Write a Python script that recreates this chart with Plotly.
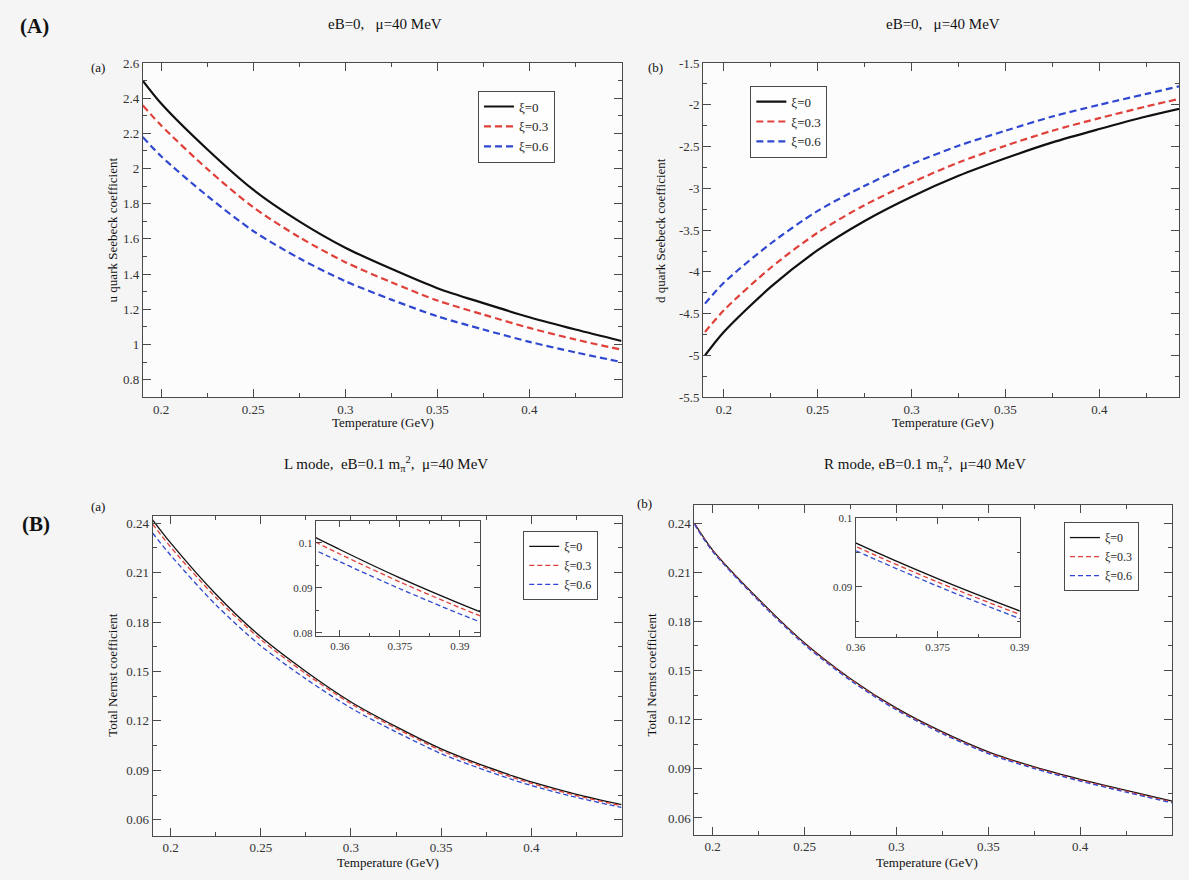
import plotly.graph_objects as go

# ---------------- data ----------------
T_A = [0.19, 0.2, 0.225, 0.25, 0.275, 0.3, 0.325, 0.35, 0.375, 0.4, 0.425, 0.45]
u_xi0 = [2.50, 2.37, 2.11, 1.88, 1.70, 1.55, 1.43, 1.32, 1.235, 1.155, 1.085, 1.02]
u_xi03 = [2.36, 2.245, 1.998, 1.78, 1.61, 1.468, 1.354, 1.25, 1.17, 1.094, 1.028, 0.97]
u_xi06 = [2.18, 2.07, 1.845, 1.645, 1.49, 1.36, 1.255, 1.16, 1.085, 1.015, 0.955, 0.90]
d_xi0 = [-5.0, -4.72, -4.18, -3.74, -3.39, -3.10, -2.85, -2.64, -2.45, -2.29, -2.14, -2.01]
d_xi03 = [-4.72, -4.46, -3.95, -3.53, -3.20, -2.93, -2.69, -2.49, -2.31, -2.16, -2.02, -1.89]
d_xi06 = [-4.38, -4.13, -3.66, -3.27, -2.97, -2.71, -2.49, -2.31, -2.14, -2.00, -1.87, -1.74]

T_B = [0.19, 0.2, 0.225, 0.25, 0.275, 0.3, 0.325, 0.35, 0.36, 0.375, 0.39, 0.4, 0.425, 0.45]
L_xi0 = [0.242, 0.228, 0.197, 0.171, 0.150, 0.1315, 0.1165, 0.1030, 0.0985, 0.0922, 0.0865, 0.0830, 0.0755, 0.0692]
L_xi03 = [0.2395, 0.2255, 0.1950, 0.1694, 0.1486, 0.1304, 0.1155, 0.1020, 0.0975, 0.0913, 0.0856, 0.0821, 0.0747, 0.0685]
L_xi06 = [0.234, 0.2205, 0.1905, 0.1655, 0.1455, 0.1278, 0.1133, 0.1001, 0.0958, 0.0898, 0.0842, 0.0808, 0.0736, 0.0675]
R_xi0 = [0.240, 0.2235, 0.1935, 0.1668, 0.1450, 0.1270, 0.1125, 0.1003, 0.0964, 0.0912, 0.0865, 0.0836, 0.0768, 0.0702]
R_xi03 = [0.2397, 0.2231, 0.1930, 0.1663, 0.1445, 0.1265, 0.1120, 0.0998, 0.0959, 0.0907, 0.0860, 0.0831, 0.0763, 0.0697]
R_xi06 = [0.2393, 0.2226, 0.1925, 0.1657, 0.1439, 0.1259, 0.1114, 0.0992, 0.0953, 0.0901, 0.0854, 0.0825, 0.0757, 0.0692]

series_names = ["ξ=0", "ξ=0.3", "ξ=0.6"]
x_ticks = [0.2, 0.25, 0.3, 0.35, 0.4]
x_ticktext = ["0.2", "0.25", "0.3", "0.35", "0.4"]
d_ticks = [-5.5, -5, -4.5, -4, -3.5, -3, -2.5, -2, -1.5]
d_ticktext = ["-5.5", "-5", "-4.5", "-4", "-3.5", "-3", "-2.5", "-2", "-1.5"]
inset_xticks = [0.36, 0.375, 0.39]
inset_xticktext = ["0.36", "0.375", "0.39"]

# ---------------- style ----------------
W, H = 1189, 880
FONT = "Liberation Serif, Times New Roman, serif"
AX = "#4a4a4a"
COLORS = ["#111111", "#e0403a", "#3048d0"]
DASHES = ["solid", "dash", "dash"]


def px(x0, x1):
    return [x0 / W, x1 / W]


def py(top, bottom):
    return [1 - bottom / H, 1 - top / H]


def axis_style(domain, rng, anchor, ticklen=8, minor_len=4, fsize=13, **kw):
    d = dict(domain=domain, range=rng, anchor=anchor, showline=True, linecolor=AX,
             linewidth=1, mirror="allticks", ticks="inside", ticklen=ticklen,
             tickcolor=AX, tickwidth=1, showgrid=False, zeroline=False,
             tickfont=dict(family=FONT, size=fsize, color="#333"),
             minor=dict(ticks="inside", ticklen=minor_len, tickcolor=AX, showgrid=False))
    d.update(kw)
    return d


fig = go.Figure()

panels = [
    ("x", "y", T_A, [u_xi0, u_xi03, u_xi06], "legend", 2.2),
    ("x2", "y2", T_A, [d_xi0, d_xi03, d_xi06], "legend2", 2.2),
    ("x3", "y3", T_B, [L_xi0, L_xi03, L_xi06], "legend3", 1.3),
    ("x4", "y4", T_B, [R_xi0, R_xi03, R_xi06], "legend4", 1.3),
    ("x5", "y5", T_B, [L_xi0, L_xi03, L_xi06], None, 1.3),
    ("x6", "y6", T_B, [R_xi0, R_xi03, R_xi06], None, 1.3),
]
for xa, ya, T, ys, leg, lw in panels:
    for i, vals in enumerate(ys):
        dash = DASHES[i]
        if dash == "dash":
            dash = "7px,4px" if lw > 2 else "5px,3px"
        tr = dict(x=T, y=vals, xaxis=xa, yaxis=ya, mode="lines", name=series_names[i],
                  line=dict(color=COLORS[i], width=lw, dash=dash, shape="spline", smoothing=0.8),
                  showlegend=leg is not None)
        if leg is not None:
            tr["legend"] = leg
        fig.add_trace(go.Scatter(**tr))

top_row = py(57, 397)
layout = dict(
    width=W, height=H, margin=dict(l=0, r=0, t=0, b=0),
    paper_bgcolor="#f5f5f5", plot_bgcolor="#fcfcfc",
    font=dict(family=FONT, size=13, color="#222"),
    xaxis=axis_style(px(135, 622), [0.19, 0.45], "y", tickvals=x_ticks, ticktext=x_ticktext,
                     minor_dtick=0.025, minor_tick0=0.2),
    yaxis=axis_style(top_row, [0.7, 2.6], "x", dtick=0.2, tick0=0, minor_dtick=0.1, minor_tick0=0),
    xaxis2=axis_style(px(705, 1189), [0.189, 0.4424], "y2", tickvals=x_ticks, ticktext=x_ticktext,
                      minor_dtick=0.025, minor_tick0=0.2),
    yaxis2=axis_style(top_row, [-5.5, -1.5], "x2", tickvals=d_ticks, ticktext=d_ticktext,
                      minor_dtick=0.25, minor_tick0=0),
    xaxis3=axis_style(px(145, 622), [0.19, 0.45], "y3", tickvals=x_ticks, ticktext=x_ticktext,
                      minor_dtick=0.025, minor_tick0=0.2),
    yaxis3=axis_style(py(518, 843), [0.0504, 0.2442], "x3", dtick=0.03, tick0=0,
                      minor_dtick=0.015, minor_tick0=0),
    xaxis4=axis_style(px(696, 1182), [0.19, 0.45], "y4", tickvals=x_ticks, ticktext=x_ticktext,
                      minor_dtick=0.025, minor_tick0=0.2),
    yaxis4=axis_style(py(507, 842), [0.0498, 0.2508], "x4", dtick=0.03, tick0=0,
                      minor_dtick=0.015, minor_tick0=0),
    xaxis5=axis_style(px(311, 478), [0.354, 0.395], "y5", ticklen=6, minor_len=3, fsize=11,
                      tickvals=inset_xticks, ticktext=inset_xticktext, minor_dtick=0.0075, minor_tick0=0.36),
    yaxis5=axis_style(py(523, 640), [0.0793, 0.1048], "x5", ticklen=6, minor_len=3, fsize=11,
                      dtick=0.01, tick0=0, minor_dtick=0.005, minor_tick0=0),
    xaxis6=axis_style(px(860, 1027), [0.36, 0.39], "y6", ticklen=6, minor_len=3, fsize=11,
                      tickvals=inset_xticks, ticktext=inset_xticktext, minor_dtick=0.0075, minor_tick0=0.36),
    yaxis6=axis_style(py(520, 641), [0.0827, 0.1], "x6", ticklen=6, minor_len=3, fsize=11,
                      dtick=0.01, tick0=0, minor_dtick=0.005, minor_tick0=0),
)


def legend_at(x, y, size=13):
    return dict(x=x / W, y=1 - y / H, xanchor="left", yanchor="top", xref="paper", yref="paper",
                bgcolor="rgba(255,255,255,0.6)", bordercolor=AX, borderwidth=1,
                font=dict(family=FONT, size=size, color="#222"), tracegroupgap=0,
                itemwidth=30)


layout["legend"] = legend_at(476, 85)
layout["legend2"] = legend_at(753, 80)
layout["legend3"] = legend_at(522, 533, 12)
layout["legend4"] = legend_at(1072, 524, 12)

fig.update_layout(**layout)


def ann(text, x, y, size=14, angle=0, bold=False, xanchor="center"):
    if bold:
        text = "<b>" + text + "</b>"
    fig.add_annotation(text=text, x=x / W, y=1 - y / H, xref="paper", yref="paper",
                       showarrow=False, textangle=angle, xanchor=xanchor, yanchor="middle",
                       font=dict(family=FONT, size=size, color="#111"))


ann("(A)", 25, 19, size=21, bold=True)
ann("(B)", 26, 526, size=21, bold=True)
ann("eB=0,   μ=40 MeV", 381, 17, size=15)
ann("eB=0,   μ=40 MeV", 949, 17, size=15)
ann("L mode,  eB=0.1 m<sub>π</sub><sup>2</sup>,  μ=40 MeV", 382, 465, size=15)
ann("R mode, eB=0.1 m<sub>π</sub><sup>2</sup>,  μ=40 MeV", 931, 465, size=15)
ann("(a)", 89, 62, size=13)
ann("(b)", 657, 62, size=13)
ann("(a)", 89, 508, size=13)
ann("(b)", 645, 505, size=13)
ann("u quark Seebeck coefficient", 104, 227, size=13, angle=-90)
ann("d quark Seebeck coefficient", 661, 227, size=13, angle=-90)
ann("Total Nernst coefficient", 104, 680, size=13, angle=-90)
ann("Total Nernst coefficient", 652, 680, size=13, angle=-90)
ann("Temperature (GeV)", 379, 423, size=13)
ann("Temperature (GeV)", 949, 423, size=13)
ann("Temperature (GeV)", 384, 870, size=13)
ann("Temperature (GeV)", 933, 870, size=13)

fig.write_html("out.html", config={"displayModeBar": False},
               post_script="document.body.style.margin='0';document.body.style.overflow='hidden';")
